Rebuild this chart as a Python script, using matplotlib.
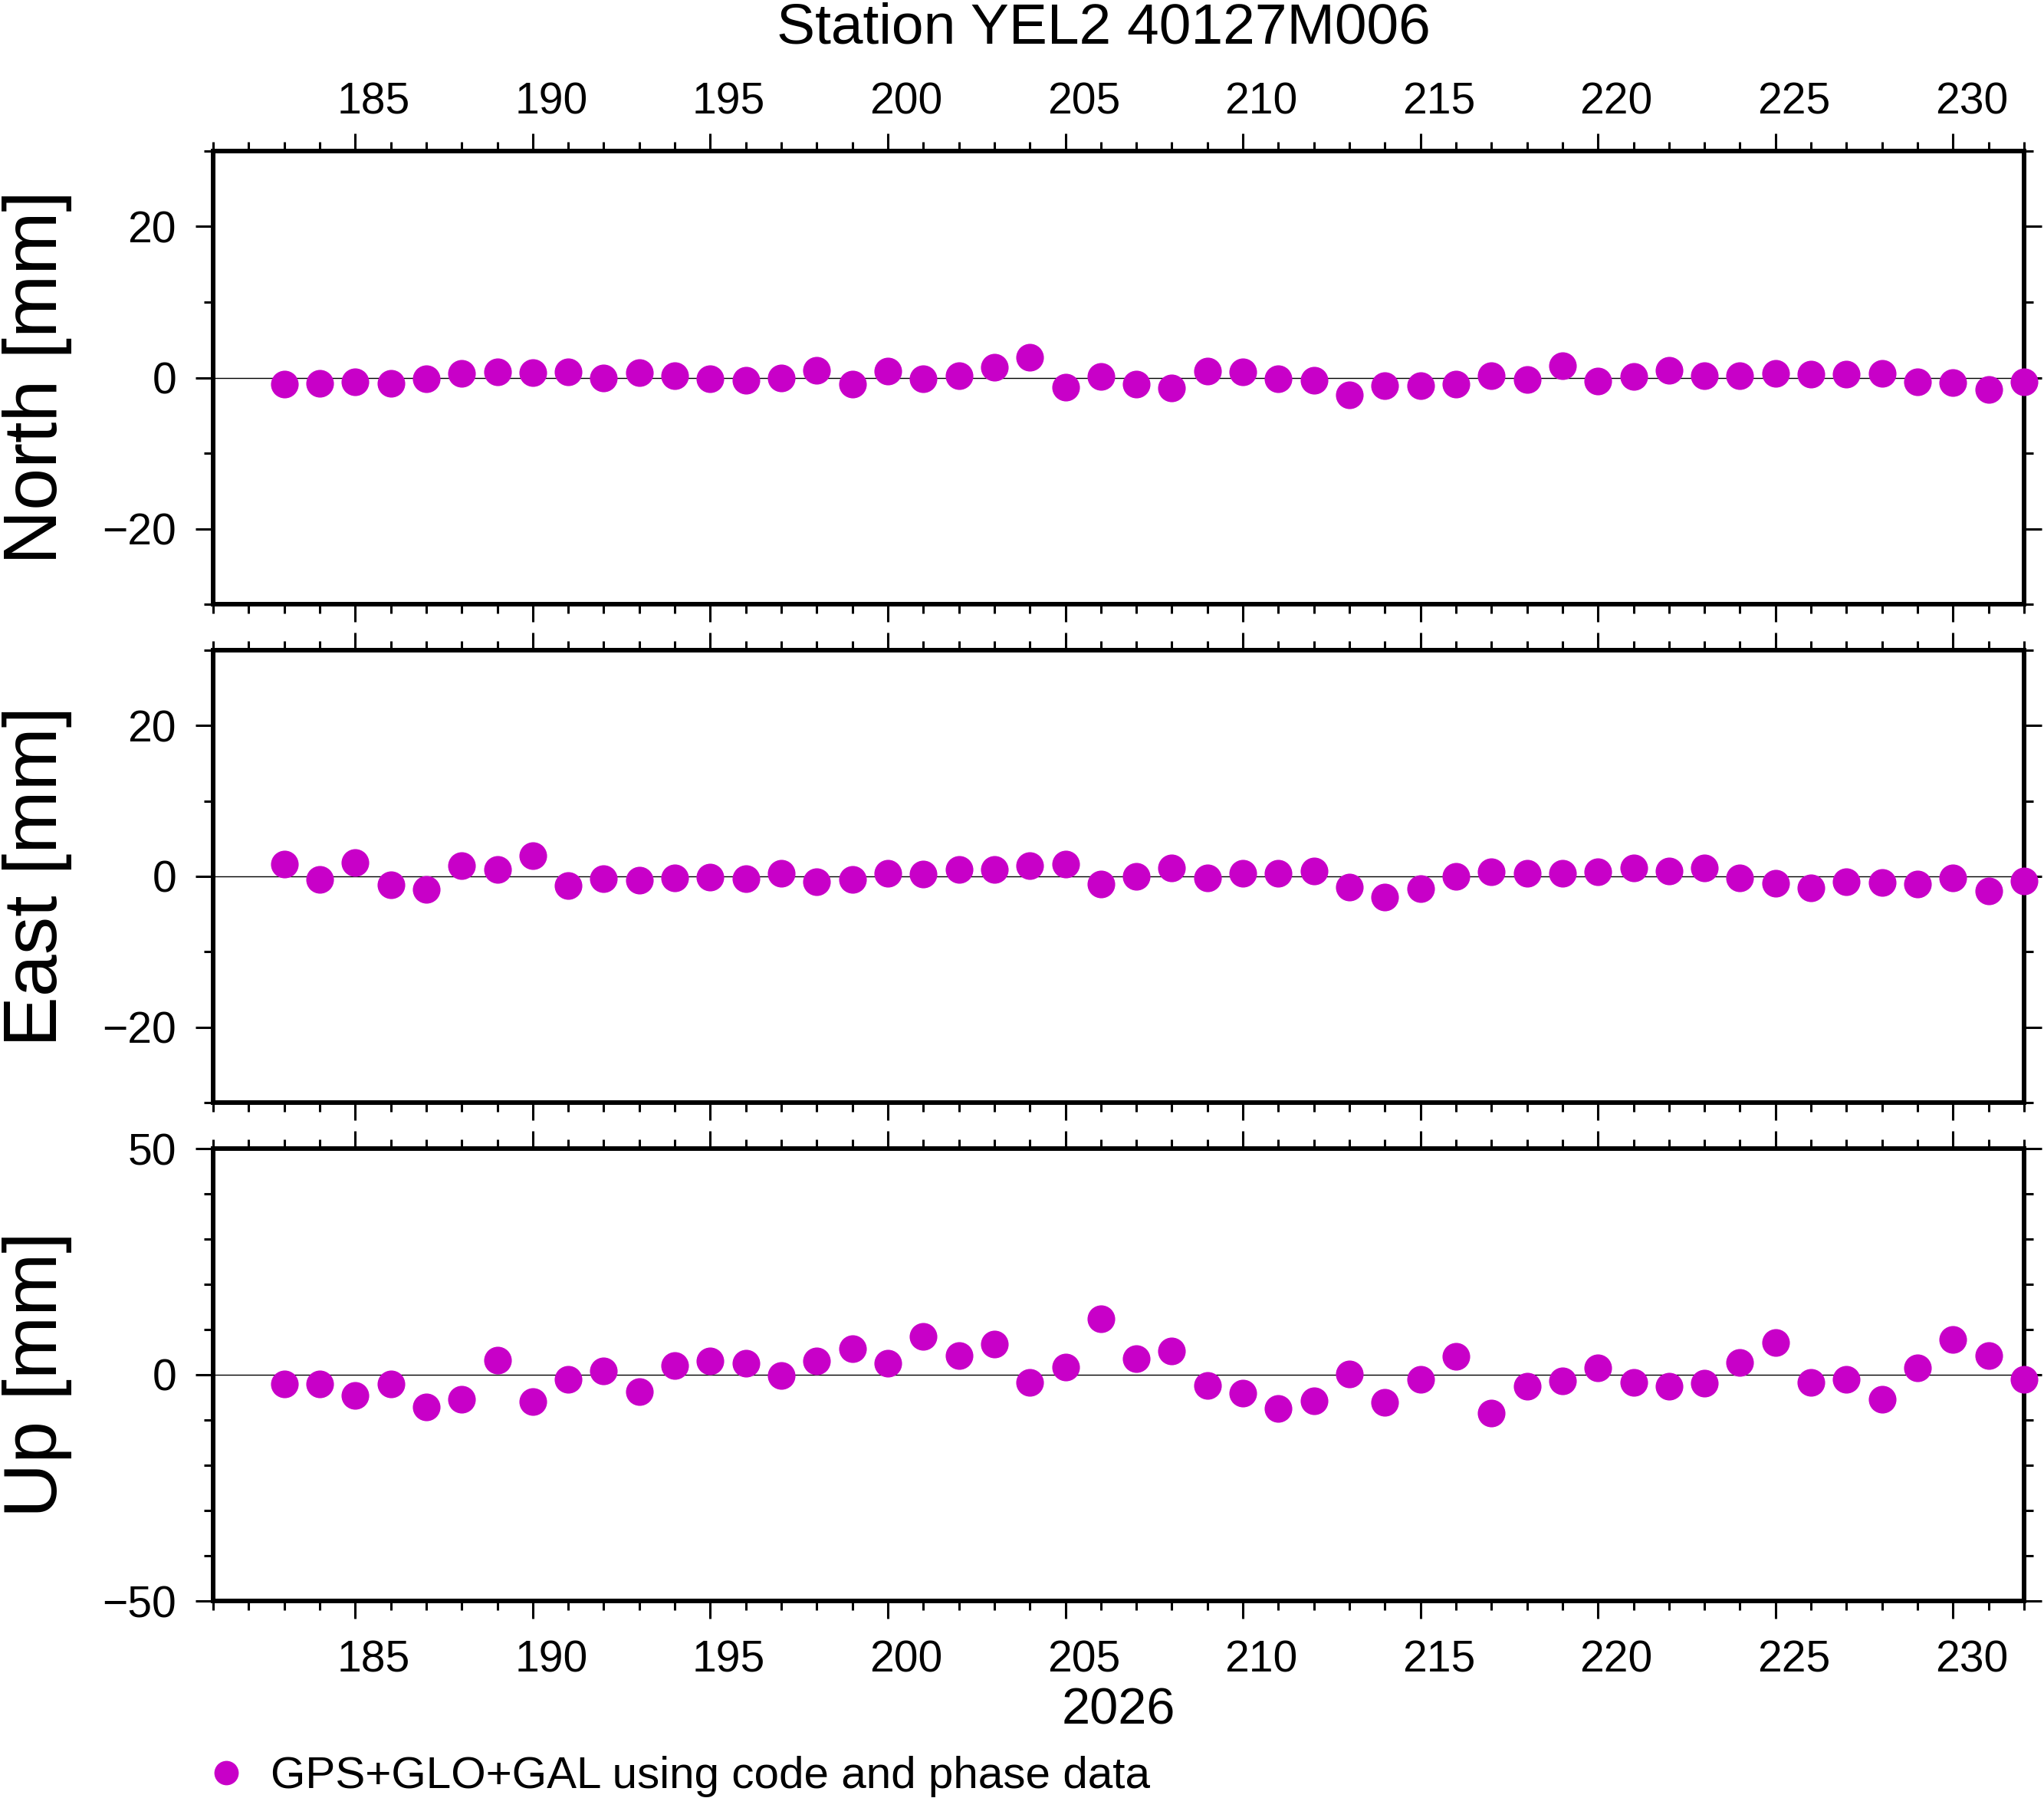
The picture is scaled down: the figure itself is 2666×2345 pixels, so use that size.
import numpy as np
import matplotlib
matplotlib.use('Agg')
import matplotlib.pyplot as plt
from matplotlib.ticker import MultipleLocator, FixedLocator
from matplotlib.transforms import ScaledTranslation

plt.rcParams['font.family'] = ['Liberation Sans', 'DejaVu Sans']

# day of year 2026
days = list(range(183, 233))

north = [-0.9, -0.75, -0.55, -0.75, -0.15, 0.6, 0.8, 0.7, 0.8, 0.0,
         0.7, 0.25, -0.15, -0.35, 0.0, 1.0, -0.9, 0.9, -0.15, 0.25,
         1.4, 2.7, -1.25, 0.15, -0.9, -1.35, 0.9, 0.8, -0.15, -0.35,
         -2.25, -1.05, -1.05, -0.85, 0.25, -0.25, 1.6, -0.45, 0.15, 1.0,
         0.25, 0.25, 0.6, 0.45, 0.45, 0.6, -0.55, -0.65, -1.55, -0.55]

east = [1.65, -0.4, 1.8, -1.15, -1.75, 1.4, 0.9, 2.7, -1.25, -0.35,
        -0.55, -0.25, -0.15, -0.35, 0.45, -0.75, -0.45, 0.45, 0.35, 0.9,
        0.9, 1.4, 1.6, -1.05, 0.0, 1.1, -0.25, 0.45, 0.45, 0.7,
        -1.45, -2.7, -1.65, 0.0, 0.6, 0.45, 0.45, 0.6, 1.1, 0.7,
        1.1, -0.25, -0.95, -1.55, -0.75, -0.85, -1.05, -0.25, -1.95, -0.65]

up = [-2.1, -2.1, -4.5, -2.0, -7.2, -5.5, 3.3, -6.0, -1.0, 0.8,
      -3.8, 2.1, 3.1, 2.5, -0.2, 3.1, 5.8, 2.5, 8.5, 4.2,
      6.8, -1.7, 1.7, 12.3, 3.6, 5.2, -2.4, -4.1, -7.5, -5.8,
      0.2, -6.1, -1.1, 4.0, -8.5, -2.5, -1.3, 1.5, -1.7, -2.5,
      -1.9, 2.7, 7.1, -1.7, -1.0, -5.4, 1.5, 7.8, 4.2, -1.0]

panels = [('North [mm]', north, 30, 20),
          ('East [mm]', east, 30, 20),
          ('Up [mm]', up, 50, 50)]

W, H = 2666, 2345
fig = plt.figure(figsize=(W / 100, H / 100), dpi=100)

left = 278 / W
width = (2640 - 278) / W
tops = [197, 848, 1498]
bottoms = [788, 1438, 2088]

dot_color = '#c800c8'
tick_fs = 41

axes = []
for i, (label, vals, lim, major) in enumerate(panels):
    b = 1 - bottoms[i] / H
    h = (bottoms[i] - tops[i]) / H
    ax = fig.add_axes([left, b, width, h])
    axes.append(ax)
    ax.axhline(0, color='black', lw=1.0, zorder=1)
    ax.plot(days, vals, 'o', color=dot_color, markersize=26, markeredgewidth=0,
            clip_on=False, zorder=5,
            label='GPS+GLO+GAL using code and phase data' if i == 0 else None)
    ax.set_xlim(181, 232)
    ax.set_ylim(-lim, lim)
    ax.xaxis.set_major_locator(MultipleLocator(5))
    ax.xaxis.set_minor_locator(MultipleLocator(1))
    ax.yaxis.set_major_locator(FixedLocator([-major, 0, major]))
    ax.yaxis.set_minor_locator(MultipleLocator(10))
    for s in ax.spines.values():
        s.set_linewidth(4.3)
    ax.tick_params(which='both', direction='out', top=True, bottom=True,
                   left=True, right=True, width=2.2, labelsize=tick_fs)
    ax.tick_params(which='major', length=16.5)
    ax.tick_params(which='minor', length=8.6)
    ax.tick_params(axis='x', pad=10)
    ax.tick_params(axis='y', pad=18)
    ax.tick_params(axis='x', labeltop=(i == 0), labelbottom=(i == 2))
    ax.set_ylabel(label, fontsize=71)
    ax.yaxis.set_label_coords(-0.078, 0.5)

axes[0].set_title('Station YEL2 40127M006', fontsize=54, y=1.237, pad=0,
                  x=0.4915)
axes[2].set_xlabel('2026', fontsize=48)
axes[2].xaxis.set_label_coords(0.5, -0.19)

# x labels sit a little right of their ticks in the original
for i, ax in enumerate(axes):
    dy = -14 / 100 if i == 2 else 0
    off = ScaledTranslation(24 / 100, dy, fig.dpi_scale_trans)
    for t in ax.xaxis.get_major_ticks():
        t.label1.set_transform(t.label1.get_transform() + off)
        t.label2.set_transform(t.label2.get_transform() + off)

fig.legend(loc='center left', bbox_to_anchor=(265.5 / W, 1 - 2317 / H),
           frameon=False, fontsize=42, handlelength=1.0, handletextpad=0.5,
           borderpad=0, borderaxespad=0, numpoints=1, markerscale=0.88)

fig.savefig('out.png', dpi=100)
